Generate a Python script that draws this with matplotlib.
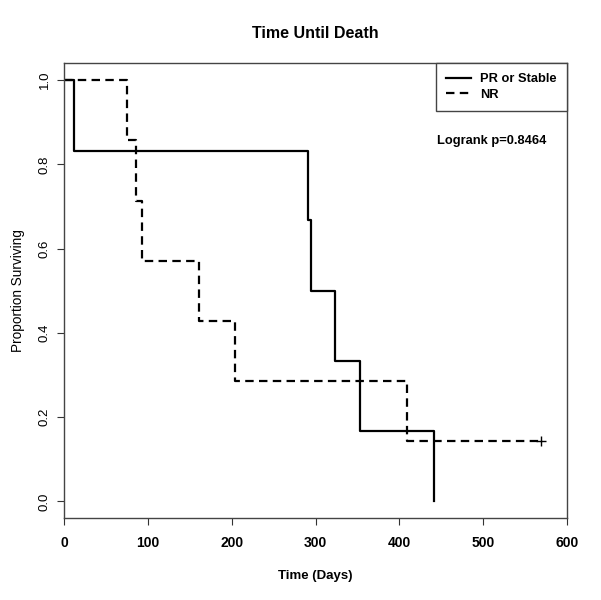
import matplotlib
matplotlib.use("Agg")
import matplotlib.pyplot as plt
from matplotlib.lines import Line2D

plt.rcParams["font.family"] = ["Liberation Sans", "DejaVu Sans"]

# Kaplan-Meier steps
pr_days = [0, 11, 291, 295, 323, 353, 442]
pr_surv = [1.0, 0.833, 0.667, 0.5, 0.333, 0.167, 0.0]

nr_days = [0, 75, 85, 93, 161, 204, 409, 569]
nr_surv = [1.0, 0.857, 0.714, 0.571, 0.429, 0.286, 0.143, 0.143]
nr_censor_day = [569]
nr_censor_surv = [0.143]

group_labels = ["PR or Stable", "NR"]
x_ticks = [0, 100, 200, 300, 400, 500, 600]
y_ticks = [0.0, 0.2, 0.4, 0.6, 0.8, 1.0]
pvalue_text = "Logrank p=0.8464"

fig = plt.figure(figsize=(6.01, 6.0), dpi=100)
ax = fig.add_axes([0.1073, 0.1362, 0.8357, 0.7583])

ax.step(pr_days, pr_surv, where="post", color="black", lw=1.6)
ax.step(nr_days, nr_surv, where="post", color="black", lw=1.6,
        linestyle=(0, (3.8, 2.4)))
ax.plot(nr_censor_day, nr_censor_surv, marker="+", color="black",
        markersize=7, markeredgewidth=1.0, linestyle="none")

ax.set_xlim(0, 600)
ax.set_ylim(-0.04, 1.04)
ax.set_xticks(x_ticks)
ax.set_xticklabels([str(t) for t in x_ticks], fontweight="bold", fontsize=10)
ax.set_yticks(y_ticks)
ax.set_yticklabels(["%.1f" % t for t in y_ticks], rotation=90, va="center",
                   fontsize=9.5)
ax.tick_params(axis="both", direction="out", length=5, width=0.8,
               color="#333333")
ax.tick_params(axis="x", pad=8)
ax.tick_params(axis="y", pad=5)

for s in ax.spines.values():
    s.set_color("#444444")
    s.set_linewidth(1.0)

ax.set_xlabel("Time (Days)", fontweight="bold", fontsize=9.5, labelpad=14)
ax.set_ylabel("Proportion Surviving", fontsize=9.8, labelpad=10)

fig.text(0.525, 1 - 33 / 600, "Time Until Death", ha="center", va="center",
         fontweight="bold", fontsize=11.5)

handles = [Line2D([], [], color="black", lw=1.6),
           Line2D([], [], color="black", lw=1.6, linestyle=(0, (3.8, 2.4)))]
leg = ax.legend(handles, group_labels, loc="upper right",
                bbox_to_anchor=(1.0, 1.0), borderaxespad=0, fancybox=False,
                framealpha=1, edgecolor="#444444", handlelength=1.95,
                handletextpad=0.75, labelspacing=0.3, borderpad=0.75,
                prop={"weight": "bold", "size": 9.3})
leg.get_frame().set_linewidth(1.0)

ax.text(445, 0.856, pvalue_text, fontweight="bold", fontsize=9.3,
        ha="left", va="center")

fig.savefig("out.png", dpi=100)
